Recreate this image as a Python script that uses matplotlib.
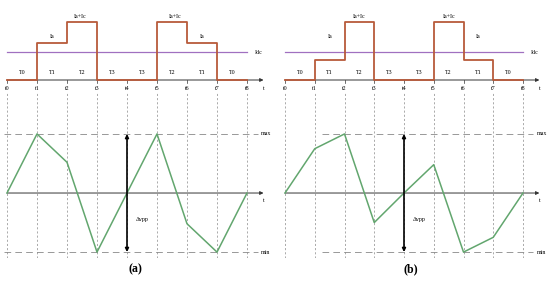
import matplotlib.pyplot as plt
import numpy as np

plt.rcParams['font.family'] = ['Liberation Serif', 'DejaVu Serif']

# time instants t0..t8 and interval names
t = np.arange(9)
tick_labels = ['t0', 't1', 't2', 't3', 't4', 't5', 't6', 't7', 't8']
interval_labels = ['T0', 'T1', 'T2', 'T3', 'T3', 'T2', 'T1', 'T0']

# capacitor current levels per interval (arbitrary units)
current_a = [0, 3.7, 5.8, 0, 0, 5.8, 3.7, 0]
current_b = [0, 2.0, 5.8, 0, 0, 5.8, 2.0, 0]
idc = 2.8

# capacitor voltage ripple at t0..t8 (normalised to max)
ripple_a = [0, 1.0, 0.52, -1.0, 0, 1.0, -0.52, -1.0, 0]
ripple_b = [0, 0.75, 1.0, -0.5, 0, 0.48, -1.0, -0.75, 0]

# current level labels: (text, x, y)
labels_a = [('Ia', 1.5, 4.3), ('Ia+Ic', 2.45, 6.4), ('Ia+Ic', 5.6, 6.4), ('Ia', 6.5, 4.3)]
labels_b = [('Ia', 1.5, 4.3), ('Ia+Ic', 2.5, 6.4), ('Ia+Ic', 5.5, 6.4), ('Ia', 6.5, 4.3)]

red = '#b85a3a'
purple = '#a070c0'
green = '#62a66e'
gray = '#888888'
fs = 4.3

fig = plt.figure(figsize=(5.5, 2.82), dpi=100)


def panel(x0, px_per_t, cur, lab, rip, hline_start, tag):
    w = 275 / 550
    off = 7 if x0 == 0 else 10
    xlim = (-off / px_per_t, (275 - off) / px_per_t)

    # ---- top: current ----
    top = fig.add_axes([x0, 1 - 92 / 282, w, 92 / 282])
    top.set_xlim(xlim)
    top.set_ylim(-1.2, 8.0)
    top.axis('off')
    top.step(t, cur + [cur[-1]], where='post', color=red, lw=1.3, zorder=3)
    top.plot([t[0], t[-1]], [idc, idc], color=purple, lw=0.9, zorder=2)
    top.annotate('', xy=(8.55, 0), xytext=(t[0], 0),
                 arrowprops=dict(arrowstyle='-|>', color='#333333', lw=0.7,
                                 mutation_scale=5, shrinkA=0, shrinkB=0), zorder=1)
    for i, s in enumerate(interval_labels):
        top.text(t[i] + 0.5, 0.7, s, ha='center', va='center', fontsize=fs)
    for i, s in enumerate(tick_labels):
        top.plot([t[i], t[i]], [0, -0.3], color='#333333', lw=0.5)
        top.text(t[i], -0.9, s, ha='center', va='center', fontsize=fs)
    top.text(8.55, -0.9, 't', ha='center', va='center', fontsize=fs)
    top.text(8.25, idc, 'Idc', ha='left', va='center', fontsize=fs)
    for s, x, y in lab:
        top.text(x, y, s, ha='center', va='center', fontsize=fs)

    # ---- bottom: voltage ripple ----
    bot = fig.add_axes([x0, 24 / 282, w, 166 / 282])
    bot.set_xlim(xlim)
    bot.set_ylim(-1.10, 1.71)
    bot.axis('off')
    for ti in t:
        bot.axvline(ti, color=gray, lw=0.5, ls=(0, (3, 3)), zorder=1)
    for yv in (1, -1):
        bot.plot([hline_start, 8.35], [yv, yv], color=gray, lw=0.6,
                 ls=(0, (8, 5)), zorder=1)
    bot.text(8.45, 1, 'max', ha='left', va='center', fontsize=fs)
    bot.text(8.45, -1, 'min', ha='left', va='center', fontsize=fs)
    bot.annotate('', xy=(8.55, 0), xytext=(t[0], 0),
                 arrowprops=dict(arrowstyle='-|>', color='#333333', lw=0.7,
                                 mutation_scale=5, shrinkA=0, shrinkB=0), zorder=2)
    bot.text(8.55, -0.12, 't', ha='center', va='center', fontsize=fs)
    bot.annotate('', xy=(4, 1), xytext=(4, -1),
                 arrowprops=dict(arrowstyle='<|-|>', color='black', lw=1.2,
                                 mutation_scale=5, shrinkA=0, shrinkB=0), zorder=4)
    bot.text(4.3, -0.45, '\u0394vpp', ha='left', va='center', fontsize=fs)
    bot.plot(t, rip, color=green, lw=1.1, zorder=3)

    fig.text(x0 + w / 2 - 0.003, 13 / 282, '(' + tag + ')',
             ha='center', va='center', fontsize=8.5, fontweight='bold')


panel(0, 30.0, current_a, labels_a, ripple_a, -0.1, 'a')
panel(0.5, 29.75, current_b, labels_b, ripple_b, 1.25, 'b')

fig.savefig('out.png', dpi=100)
